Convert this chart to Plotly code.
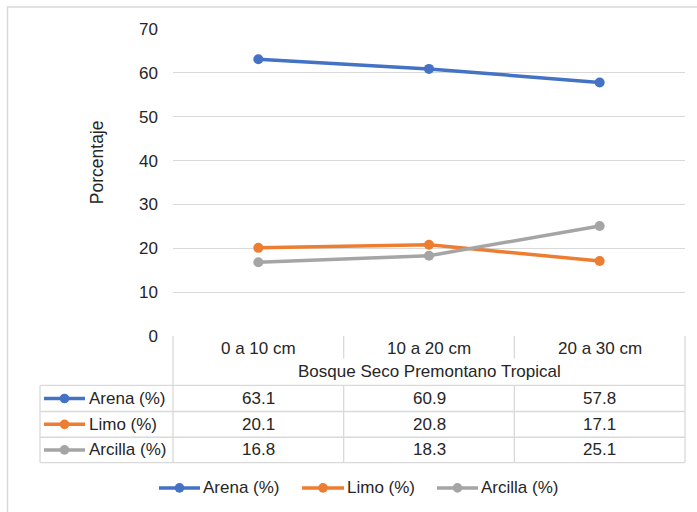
import plotly.graph_objects as go

# ---- data ----
categories = ["0 a 10 cm", "10 a 20 cm", "20 a 30 cm"]
group_label = "Bosque Seco Premontano Tropical"
series_names = ["Arena (%)", "Limo (%)", "Arcilla (%)"]
arena = [63.1, 60.9, 57.8]
limo = [20.1, 20.8, 17.1]
arcilla = [16.8, 18.3, 25.1]
y_ticks = [0, 10, 20, 30, 40, 50, 60, 70]
y_title = "Porcentaje"

series_values = [arena, limo, arcilla]
colors = ["#4472C4", "#ED7D31", "#A5A5A5"]

# ---- layout geometry (pixels) ----
W, H = 697, 512
L, R, T, B = 173, 12, 29, 176.4
pw = W - L - R
ph = H - T - B
FONT = "Liberation Sans, Arial, sans-serif"
TXT = "#262626"
GRID = "#D9D9D9"
FS = 17


def fx(px):
    return (px - L) / pw


def fy(py):
    return (H - B - py) / ph


fig = go.Figure()
for name, vals, col in zip(series_names, series_values, colors):
    fig.add_trace(go.Scatter(
        x=categories, y=vals, name=name, mode="lines+markers",
        line=dict(color=col, width=3.5),
        marker=dict(color=col, size=10),
        showlegend=False,
    ))

shapes = []
annotations = []


def hline(x0, x1, y, color=GRID, width=1.3):
    shapes.append(dict(type="line", xref="paper", yref="paper",
                       x0=fx(x0), x1=fx(x1), y0=fy(y), y1=fy(y),
                       line=dict(color=color, width=width)))


def vline(x, y0, y1, xref="paper", color=GRID, width=1.3):
    xv = fx(x) if xref == "paper" else x
    shapes.append(dict(type="line", xref=xref, yref="paper",
                       x0=xv, x1=xv, y0=fy(y0), y1=fy(y1),
                       line=dict(color=color, width=width)))


def text(x, y, s, anchor="center", xref="paper", size=FS, angle=0):
    annotations.append(dict(
        x=fx(x) if xref == "paper" else x, y=fy(y), xref=xref, yref="paper",
        text=s, showarrow=False, xanchor=anchor, yanchor="middle",
        textangle=angle, font=dict(family=FONT, size=size, color=TXT)))


def key(x0, x1, y, col):
    hline(x0, x1, y, color=col, width=3.5)
    xm = (x0 + x1) / 2
    r = 4.8
    shapes.append(dict(type="circle", xref="paper", yref="paper",
                       x0=fx(xm - r), x1=fx(xm + r), y0=fy(y + r), y1=fy(y - r),
                       fillcolor=col, line=dict(color=col, width=0)))


# outer chart border
shapes.append(dict(type="rect", xref="paper", yref="paper",
                   x0=fx(7.5), x1=fx(720), y0=fy(7), y1=fy(530),
                   line=dict(color=GRID, width=1.5), layer="below"))

# data table grid
top, hdr1, hdr2 = 335.6, 358, 385
rows_y = [385, 411, 436.7, 462]
left_tab, right_tab = 40, 685
vline(L, top, rows_y[-1])
vline(right_tab, top, rows_y[-1])
for xb in [0.5, 1.5]:
    vline(xb, top, hdr1, xref="x")
    vline(xb, hdr2, rows_y[-1], xref="x")
vline(left_tab, rows_y[0], rows_y[-1])
for yy in rows_y:
    hline(left_tab, right_tab, yy)

# header texts
for c in categories:
    text(c, (top + hdr1) / 2 + 1, c, xref="x")
text((L + right_tab) / 2, (hdr1 + hdr2) / 2, group_label)

# table rows: key + name + values
for i, (name, vals, col) in enumerate(zip(series_names, series_values, colors)):
    yc = (rows_y[i] + rows_y[i + 1]) / 2
    key(44, 85, yc, col)
    text(87, yc, name, anchor="left")
    for c, v in zip(categories, vals):
        text(c, yc, f"{v:.1f}", xref="x")

# bottom legend
legend_items = [(159, 200, 201), (302, 344, 345), (437, 478, 479)]
ly = 487.3
for (k0, k1, tx), name, col in zip(legend_items, series_names, colors):
    key(k0, k1, ly, col)
    text(tx, ly, name, anchor="left")

# y-axis title
text(97, 162, y_title, angle=-90, size=17.5)

fig.update_layout(
    width=W, height=H,
    margin=dict(l=L, r=R, t=T, b=B),
    paper_bgcolor="white", plot_bgcolor="white",
    shapes=shapes, annotations=annotations,
    xaxis=dict(type="category", range=[-0.5, 2.5], showticklabels=False,
               showgrid=False, zeroline=False, showline=False, fixedrange=True),
    yaxis=dict(range=[0, 70], tickvals=y_ticks, showgrid=True, gridcolor=GRID,
               gridwidth=1.3, zeroline=False, showline=False,
               ticklabelstandoff=14,
               tickfont=dict(family=FONT, size=FS, color=TXT)),
)

fig.write_html("out.html")
